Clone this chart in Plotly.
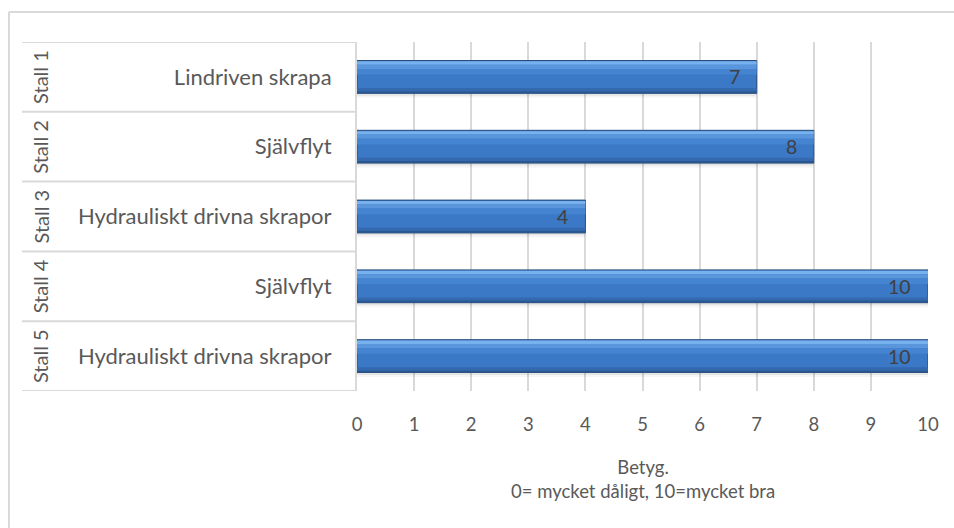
import plotly.graph_objects as go

# Ratings per barn and manure removal system
stalls = ["Stall 1", "Stall 2", "Stall 3", "Stall 4", "Stall 5"]
systems = ["Lindriven skrapa", "Självflyt", "Hydrauliskt drivna skrapor",
           "Självflyt", "Hydrauliskt drivna skrapor"]
ratings = [7, 8, 4, 10, 10]
x_ticks = list(range(0, 11))
axis_title_lines = ["Betyg.", "0= mycket dåligt, 10=mycket bra"]

pos = list(range(len(stalls)))

W, H = 954, 528
L, R, T, B = 357, 26, 42, 137
plot_w = W - L - R
plot_h = H - T - B

FONT = "Lato"
TICK_COLOR = "#595959"
GRID = "#d9d9d9"

fig = go.Figure()

BW = 0.47
half = BW / 2

# layered horizontal bars to give a bevelled look
layers = [
    # soft drop shadow below the bar
    dict(offset=half, width=0.035, color="rgba(0,0,0,0.10)", line=0),
    dict(offset=half + 0.035, width=0.03, color="rgba(0,0,0,0.04)", line=0),
    # main body
    dict(offset=-half, width=BW, color="#3b78c6", line=1),
    # upper highlight bands
    dict(offset=-half + 0.012, width=0.05, color="#78b2ee", line=0),
    dict(offset=-half + 0.062, width=0.06, color="#5a96dc", line=0),
    dict(offset=-half + 0.122, width=0.08, color="#4584d0", line=0),
    # lower darker band
    dict(offset=half - 0.075, width=0.045, color="#3469b0", line=0),
    dict(offset=half - 0.03, width=0.03, color="#2b5791", line=0),
]

for lay in layers:
    fig.add_trace(go.Bar(
        x=ratings,
        y=pos,
        orientation="h",
        offset=lay["offset"],
        width=lay["width"],
        marker=dict(
            color=lay["color"],
            line=dict(color="#284c7a", width=lay["line"]),
        ),
        hoverinfo="skip",
        showlegend=False,
    ))

# value labels inside the bar ends
for p, v in zip(pos, ratings):
    fig.add_annotation(
        x=v, y=p, xref="x", yref="y",
        text=str(v), showarrow=False,
        xanchor="right", xshift=-15,
        font=dict(family=FONT, size=19.5, color="#404040"),
    )

# outer category level (rotated barn labels)
lab_x = (40 - L) / plot_w
for p, s in zip(pos, stalls):
    fig.add_annotation(
        x=lab_x, y=p, xref="paper", yref="y",
        text=s, textangle=-90, showarrow=False,
        xanchor="center", yanchor="middle",
        font=dict(family=FONT, size=20, color=TICK_COLOR),
    )

# row separators of the category table
tbl_x0 = (22 - L) / plot_w
for k in range(len(pos) + 1):
    yb = k - 0.5
    fig.add_shape(type="line", xref="paper", yref="y",
                  x0=tbl_x0, x1=0, y0=yb, y1=yb,
                  line=dict(color=GRID, width=2), layer="below")

# chart frame
fx0 = (9 - L) / plot_w
fy_top = (H - B - 12) / plot_h
fy_bot = (H - B - H) / plot_h
fig.add_shape(type="line", xref="paper", yref="paper",
              x0=fx0, x1=(W - L) / plot_w, y0=fy_top, y1=fy_top,
              line=dict(color=GRID, width=2))
fig.add_shape(type="line", xref="paper", yref="paper",
              x0=fx0, x1=fx0, y0=fy_top, y1=fy_bot,
              line=dict(color=GRID, width=2))

# two-line axis title
fig.add_annotation(
    x=0.5, y=(H - B - 479) / plot_h, xref="paper", yref="paper",
    text="<br>".join(axis_title_lines), showarrow=False,
    xanchor="center", yanchor="middle",
    font=dict(family=FONT, size=18.5, color=TICK_COLOR),
)

fig.update_layout(
    width=W, height=H,
    margin=dict(l=L, r=R, t=T, b=B, autoexpand=False),
    paper_bgcolor="white",
    plot_bgcolor="white",
    barmode="overlay",
    font=dict(family=FONT, size=18, color=TICK_COLOR),
    xaxis=dict(
        range=[0, 10],
        tickvals=x_ticks,
        ticktext=[str(t) for t in x_ticks],
        showgrid=True, gridcolor=GRID, gridwidth=1.5,
        zeroline=False, showline=False,
        ticks="", ticklabelstandoff=20,
        tickfont=dict(family=FONT, size=18.5, color=TICK_COLOR),
        fixedrange=True,
    ),
    yaxis=dict(
        range=[4.5, -0.5],
        tickvals=pos,
        ticktext=systems,
        showgrid=False, zeroline=False,
        showline=True, linecolor=GRID, linewidth=2,
        ticks="", ticklabelstandoff=19,
        tickfont=dict(family=FONT, size=22, color=TICK_COLOR),
        fixedrange=True,
    ),
)

fig.write_html("out.html")
